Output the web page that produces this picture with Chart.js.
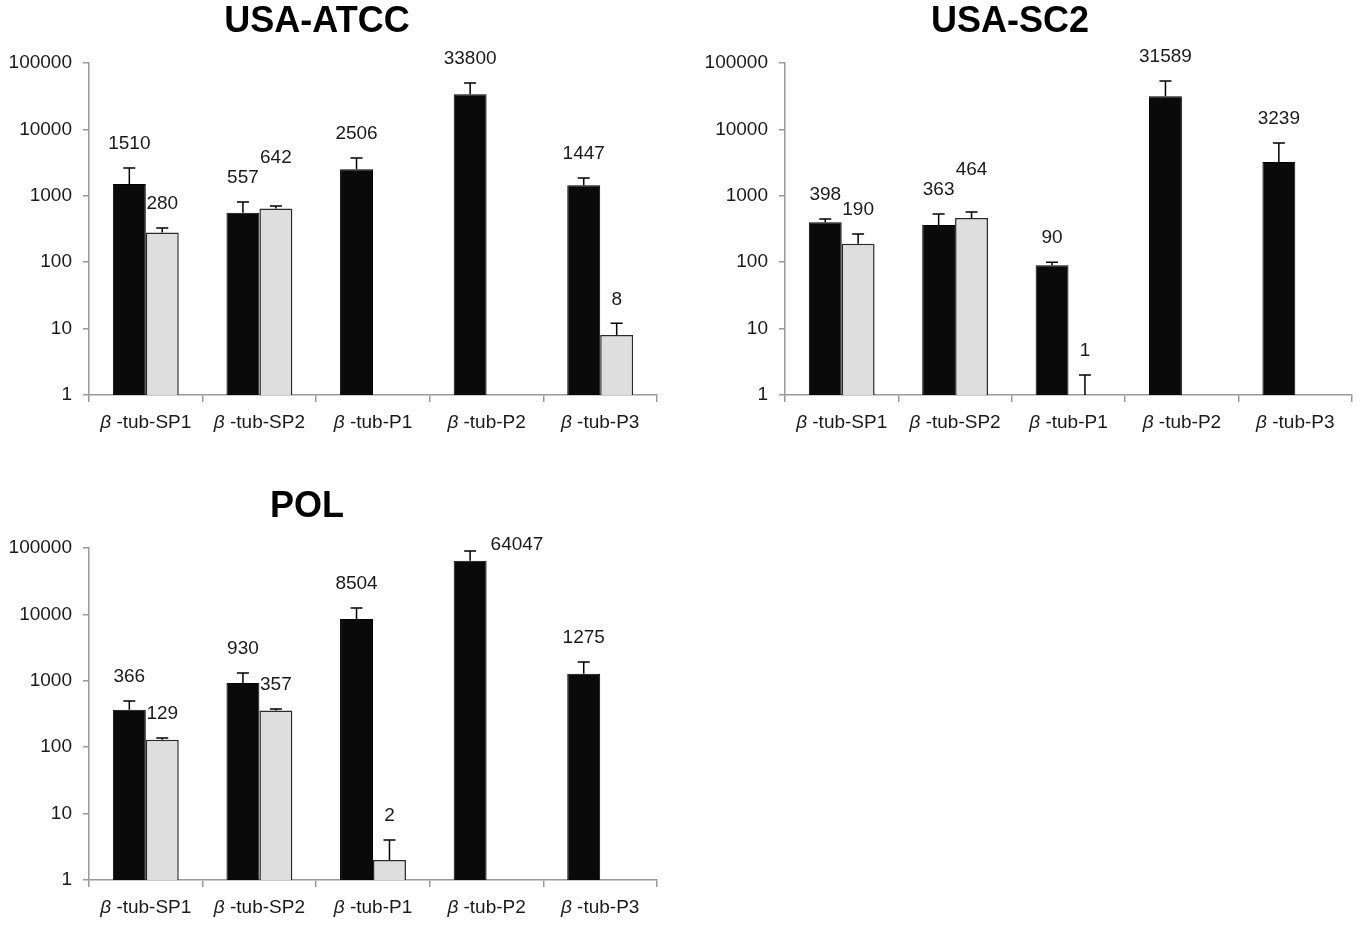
<!DOCTYPE html>
<html>
<head>
<meta charset="utf-8">
<script src="https://cdn.jsdelivr.net/npm/chart.js@4"></script>
<style>
  body { margin: 0; background: #fff; }
  canvas { position: absolute; }
</style>
</head>
<body>
<canvas id="atcc" width="680" height="460" style="left:0;top:0"></canvas>
<canvas id="sc2" width="680" height="460" style="left:680px;top:0"></canvas>
<canvas id="pol" width="680" height="462" style="left:0;top:465px"></canvas>
<script>
// categories (first char drawn in italic)
const categories = ['β -tub-SP1', 'β -tub-SP2', 'β -tub-P1', 'β -tub-P2', 'β -tub-P3'];
const yTicks = [1, 10, 100, 1000, 10000, 100000];

// USA-ATCC
const atccBlack = [1510, 557, 2506, 33800, 1447];
const atccBlackErr = [1110, 250, 1200, 16200, 410];
const atccGray = [280, 642, null, null, 8];
const atccGrayErr = [47, 60, null, null, 4];

// USA-SC2
const sc2Black = [398, 363, 90, 31589, 3239];
const sc2BlackErr = [50, 170, 10, 21900, 3000];
const sc2Gray = [190, 464, 1, null, null];
const sc2GrayErr = [76, 106, 1, null, null];

// POL
const polBlack = [366, 930, 8504, 64047, 1275];
const polBlackErr = [130, 380, 4000, 26000, 645];
const polGray = [129, 357, 2, null, null];
const polGrayErr = [9, 19, 2, null, null];

const FONT = '"Liberation Sans", Arial, sans-serif';
const TXT = '#1a1a1a';
const SIZE = 19;

const panelTitle = {
  id: 'panelTitle',
  afterDraw(chart, args, opts) {
    const c = chart.ctx;
    c.save();
    c.font = 'bold 36px ' + FONT;
    c.fillStyle = '#000';
    c.textAlign = 'center';
    c.textBaseline = 'middle';
    c.fillText(opts.text, opts.x, opts.y);
    c.restore();
  }
};

// upper error bars + value labels
const errorBars = {
  id: 'errorBars',
  afterDatasetsDraw(chart) {
    const c = chart.ctx, y = chart.scales.y, area = chart.chartArea;
    c.save();
    c.font = SIZE + 'px ' + FONT;
    const labels = []; // per category: [black, gray]
    chart.data.datasets.forEach((ds, d) => {
      chart.getDatasetMeta(d).data.forEach((bar, i) => {
        const v = ds.data[i], e = ds.errors[i];
        if (v == null) return;
        let top = bar.y;
        if (e != null) {
          top = y.getPixelForValue(v + e);
          c.strokeStyle = '#000';
          c.lineWidth = 1.5;
          c.beginPath();
          c.moveTo(bar.x, bar.y);
          c.lineTo(bar.x, top);
          c.moveTo(bar.x - 6, top);
          c.lineTo(bar.x + 6, top);
          c.stroke();
        }
        const text = String(v), w = c.measureText(text).width;
        let lab = { text, v, x: bar.x, y: top - 24, w, align: 'center' };
        if (lab.y < area.top - 10) {
          // no room above, put it beside the cap
          lab = { text, v, x: bar.x + bar.width / 2 + 4, y: top - 6, w, align: 'left' };
        }
        (labels[i] = labels[i] || [])[d] = lab;
      });
    });
    // lift the gray label when it would collide with the black one
    labels.forEach(pair => {
      const [b, g] = pair || [];
      if (!b || !g) return;
      const gap = (g.x - g.w / 2) - (b.x + b.w / 2);
      if (gap < 4 && Math.abs(g.y - b.y) < 16 && g.v >= b.v) g.y = Math.min(g.y, b.y - 20);
    });
    c.fillStyle = TXT;
    c.textBaseline = 'middle';
    labels.forEach(pair => (pair || []).forEach(l => {
      if (!l) return;
      c.textAlign = l.align;
      c.fillText(l.text, l.x, l.y);
    }));
    c.restore();
  }
};

const tubLabels = {
  id: 'tubLabels',
  afterDraw(chart) {
    const c = chart.ctx, x = chart.scales.x;
    const y = chart.chartArea.bottom + 28;
    c.save();
    c.fillStyle = TXT;
    c.textBaseline = 'middle';
    c.textAlign = 'left';
    chart.data.labels.forEach((lab, i) => {
      const greek = lab.charAt(0), rest = lab.slice(1);
      c.font = 'italic ' + SIZE + 'px ' + FONT;
      const w1 = c.measureText(greek).width;
      c.font = SIZE + 'px ' + FONT;
      const w2 = c.measureText(rest).width;
      const x0 = x.getPixelForValue(i) - (w1 + w2) / 2;
      c.font = 'italic ' + SIZE + 'px ' + FONT;
      c.fillText(greek, x0, y);
      c.font = SIZE + 'px ' + FONT;
      c.fillText(rest, x0 + w1, y);
    });
    c.restore();
  }
};

function makeChart(id, title, black, blackErr, gray, grayErr, lay) {
  return new Chart(document.getElementById(id), {
    type: 'bar',
    data: {
      labels: categories,
      datasets: [
        {
          data: black, errors: blackErr,
          backgroundColor: '#0a0a0a', borderColor: '#000', borderWidth: 1,
          categoryPercentage: 0.58, barPercentage: 1
        },
        {
          data: gray, errors: grayErr,
          backgroundColor: '#dedede', borderColor: '#2a2a2a',
          borderWidth: ctx => (ctx.raw > 1 ? 1.5 : 0),
          categoryPercentage: 0.58, barPercentage: 1
        }
      ]
    },
    options: {
      responsive: false,
      animation: false,
      devicePixelRatio: 1,
      layout: { padding: lay.padding },
      plugins: {
        legend: { display: false },
        tooltip: { enabled: false },
        panelTitle: { text: title, x: lay.titleX, y: lay.titleY }
      },
      scales: {
        x: {
          grid: { offset: true, drawOnChartArea: false, tickLength: 7, color: '#9a9a9a', lineWidth: 1.5 },
          border: { color: '#9a9a9a', width: 1.5 },
          ticks: { display: false },
          afterFit: s => { s.height = 40; }
        },
        y: {
          type: 'logarithmic',
          min: 1, max: 100000,
          afterBuildTicks: s => { s.ticks = yTicks.map(v => ({ value: v })); },
          afterFit: s => { s.width = lay.yWidth; },
          grid: { drawOnChartArea: false, tickLength: 6, color: '#9a9a9a', lineWidth: 1.5 },
          border: { color: '#9a9a9a', width: 1.5 },
          ticks: {
            padding: 11,
            color: TXT,
            font: { family: FONT, size: SIZE },
            callback: v => String(v)
          }
        }
      }
    },
    plugins: [errorBars, tubLabels, panelTitle]
  });
}

makeChart('atcc', 'USA-ATCC', atccBlack, atccBlackErr, atccGray, atccGrayErr,
  { padding: { top: 63, left: 0, right: 23, bottom: 25 }, yWidth: 89, titleX: 317, titleY: 22 });
makeChart('sc2', 'USA-SC2', sc2Black, sc2BlackErr, sc2Gray, sc2GrayErr,
  { padding: { top: 63, left: 0, right: 8, bottom: 25 }, yWidth: 105, titleX: 330, titleY: 22 });
makeChart('pol', 'POL', polBlack, polBlackErr, polGray, polGrayErr,
  { padding: { top: 83, left: 0, right: 23, bottom: 7 }, yWidth: 89, titleX: 307, titleY: 42 });
</script>
</body>
</html>
